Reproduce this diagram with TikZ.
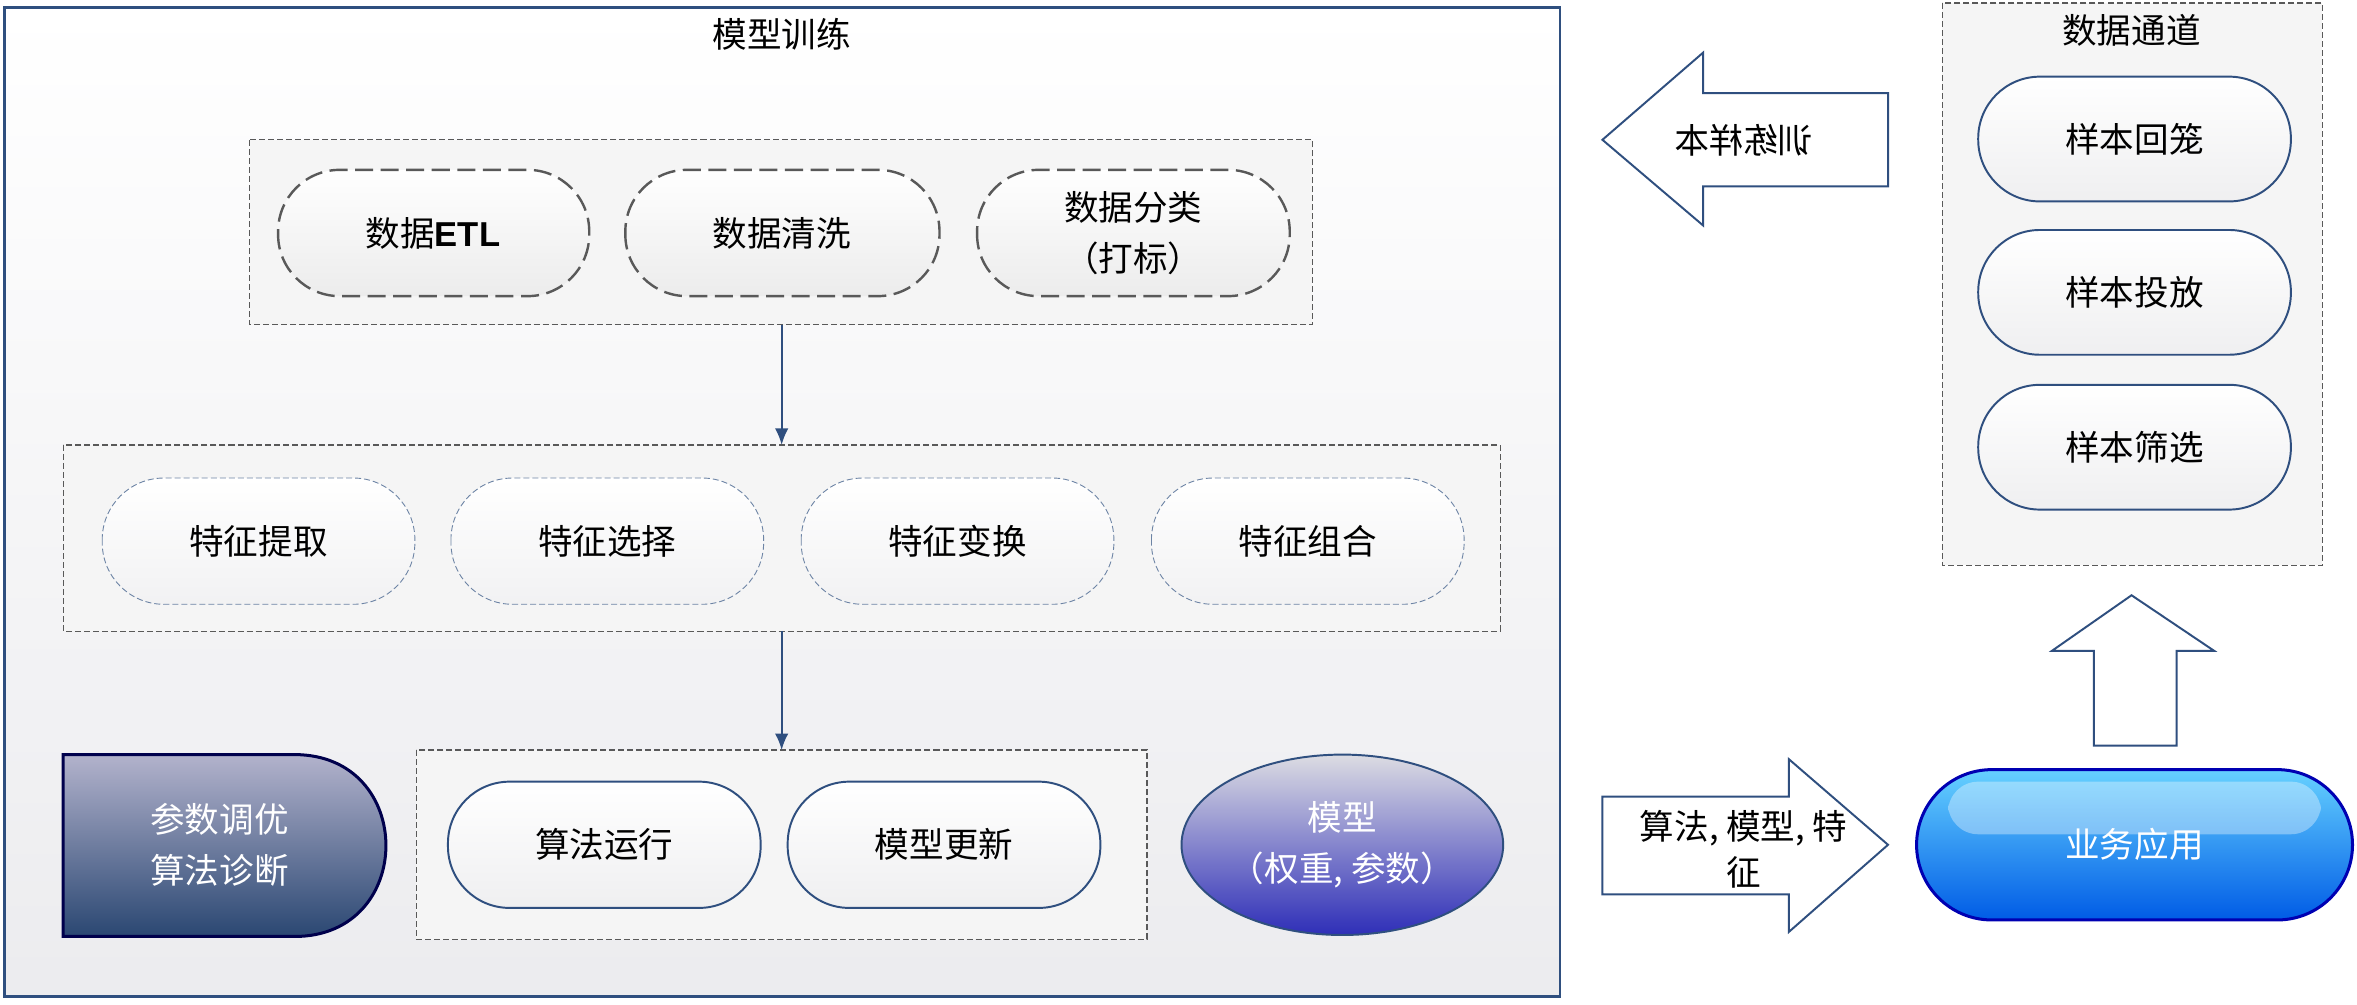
\documentclass[tikz,border=0pt]{standalone}
\usepackage{fontspec}
\setmainfont{Noto Sans CJK SC}
\usetikzlibrary{shapes.geometric,arrows.meta}
\definecolor{dblue}{HTML}{2F4F7F}
\begin{document}
\begin{tikzpicture}[x=1pt,y=-1pt,
 txt/.style={font=\fontsize{23}{27}\selectfont,align=center},
 pill/.style={rounded corners=41pt,draw=dblue,line width=1.3pt,top color=white,bottom color=blue!4!gray!12},
 dpill/.style={rounded corners=41pt,draw=gray!70!black,line width=1.6pt,dash pattern=on 12pt off 5pt,top color=white,bottom color=gray!15},
 tpill/.style={rounded corners=41pt,draw=dblue!70,line width=0.6pt,dash pattern=on 4pt off 2pt,top color=white,bottom color=blue!5!gray!10},
 grp/.style={draw=gray!70!black,line width=0.8pt,dash pattern=on 4pt off 2pt,fill=gray!8},
 conn/.style={-{Latex[length=11pt,width=9pt]},line width=1.3pt,draw=dblue},
 bigarr/.style={draw=dblue,line width=1.3pt,fill=white}]
\useasboundingbox (0,0) rectangle (1568,668);
% main frame
\draw[dblue,line width=1.5pt,top color=white,bottom color=blue!8!gray!14] (3,5) rectangle (1038,663);
\node[txt] (t1) at (520,23) {模型训练};
% group 1
\draw[grp] (166,93) rectangle (873,216);
\coordinate (g1b) at (520,216);
\draw[dpill] (185,113) rectangle (392,197); \node[txt] (a1) at (288,155) {数据\textbf{\fontspec{Liberation Sans}ETL}};
\draw[dpill] (416,113) rectangle (625,197); \node[txt] (a2) at (520,155) {数据清洗};
\draw[dpill] (650,113) rectangle (858,197); \node[txt,font=\fontsize{23}{34}\selectfont] (a3) at (754,155) {数据分类\\（打标）};
% group 2
\draw[grp] (42,296) rectangle (998,420);
\coordinate (g2t) at (520,296); \coordinate (g2b) at (520,420);
\foreach \x/\t [count=\i] in {68/特征提取,300/特征选择,533/特征变换,766/特征组合}{
 \draw[tpill] (\x,318) rectangle (\x+208,402);
 \node[txt] (f\i) at (\x+104,360) {\t};}
% group 3
\draw[grp] (277,499) rectangle (763,625);
\coordinate (g3t) at (520,499);
\draw[pill] (298,520) rectangle (506,604); \node[txt] (r1) at (402,562) {算法运行};
\draw[pill] (524,520) rectangle (732,604); \node[txt] (r2) at (628,562) {模型更新};
\draw[conn] (g1b) -- (g2t);
\draw[conn] (g2b) -- (g3t);
% tuning shape
\draw[line width=2pt,draw=blue!30!black,top color=blue!20!gray!50,bottom color=dblue!90!black]
 (42,502) -- (196,502) .. controls (277,502) and (277,623) .. (196,623) -- (42,623) -- cycle;
\node[txt,text=white,font=\fontsize{23}{34}\selectfont] (p) at (146,562) {参数调优\\算法诊断};
% model ellipse
\node[ellipse,minimum width=214pt,minimum height=120pt,draw=dblue,line width=1.3pt,top color=blue!10!gray!25,bottom color=blue!60!gray!90!black] (m) at (893,562) {};
\node[txt,text=white,font=\fontsize{23}{34}\selectfont] (mt) at (893,562) {模型\\（权重, 参数）};
% left arrow
\draw[bigarr] (1066,93) -- (1133,35) -- (1133,62) -- (1256,62) -- (1256,124) -- (1133,124) -- (1133,150) -- cycle;
\node[txt,xscale=-1] (ls) at (1160,93) {训练样本};
% data channel
\draw[grp] (1292,2) rectangle (1545,376);
\node[txt] (t2) at (1418,20) {数据通道};
\foreach \y/\t [count=\i] in {51/样本回笼,153/样本投放,256/样本筛选}{
 \draw[pill] (1316,\y) rectangle (1524,\y+83);
 \node[txt] (s\i) at (1420,\y+41.5) {\t};}
% up arrow
\draw[bigarr] (1418,396) -- (1473,433) -- (1448,433) -- (1448,496) -- (1393,496) -- (1393,433) -- (1365,433) -- cycle;
% right arrow
\draw[bigarr] (1066,530) -- (1190,530) -- (1190,505) -- (1256,562) -- (1190,620) -- (1190,595) -- (1066,595) -- cycle;
\node[txt,font=\fontsize{23}{30}\selectfont,align=center] (rs) at (1160,565) {算法, 模型, 特\\征};
% business
\draw[rounded corners=50pt,draw=blue!70!black,line width=2pt,top color=cyan!70!blue!60,bottom color=blue!60!cyan!90!black] (1275,512) rectangle (1565,612);
\fill[white,opacity=0.35,rounded corners=20pt] (1296,520) rectangle (1544,555);
\node[txt,text=white] (b) at (1420,562) {业务应用};
\end{tikzpicture}
\end{document}
